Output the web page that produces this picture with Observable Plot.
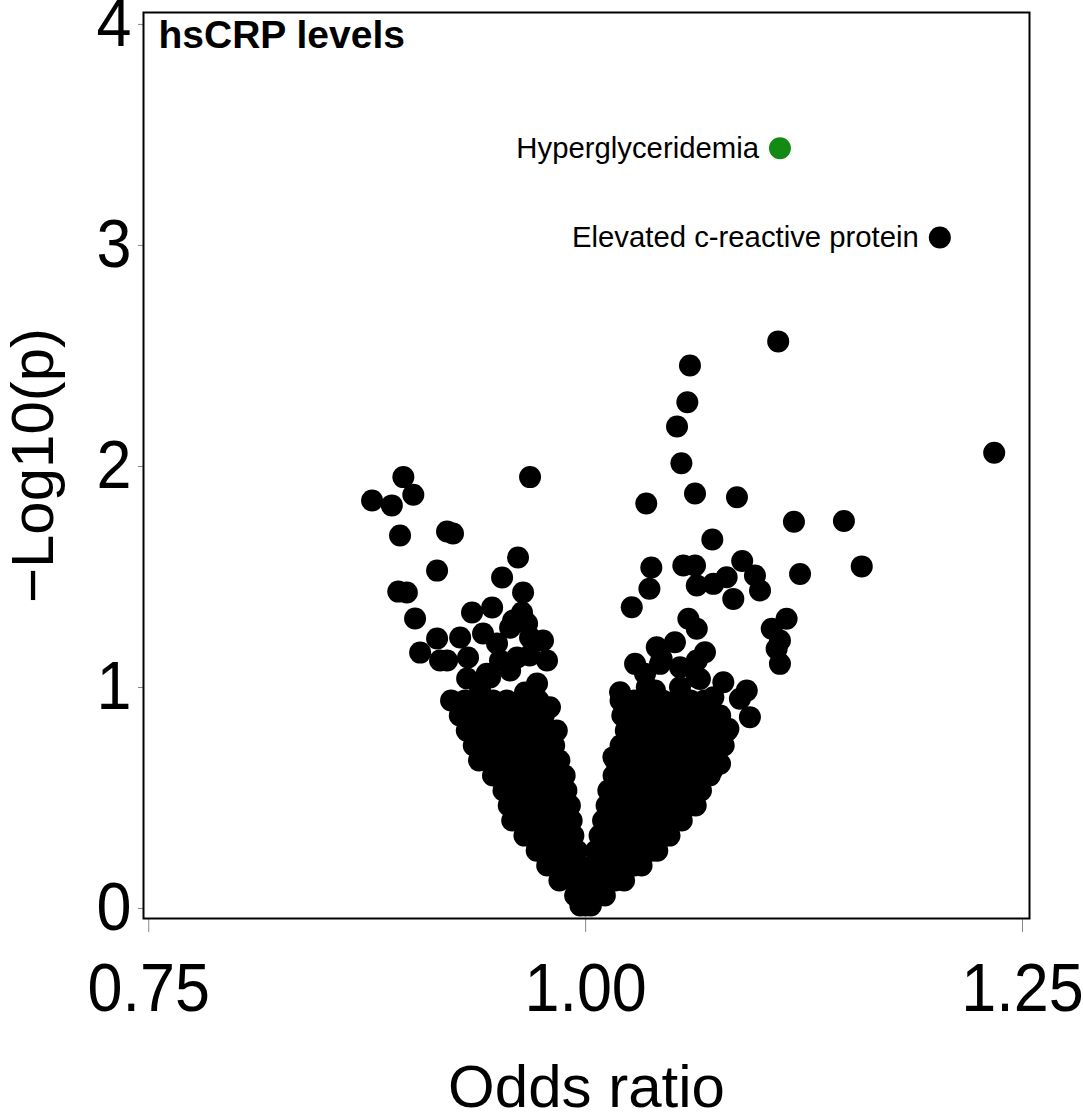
<!DOCTYPE html>
<html>
<head>
<meta charset="utf-8">
<script src="https://cdn.jsdelivr.net/npm/d3@7"></script>
<script src="https://cdn.jsdelivr.net/npm/@observablehq/plot@0.6"></script>
<style>
  body { margin: 0; background: #fff; }
  #chart svg { font-family: "Liberation Sans", Arial, Helvetica, sans-serif; }
</style>
</head>
<body>
<div id="chart"></div>
<script>
// ---- Data ----
const chartTitle = "hsCRP levels";
const xLabel = "Odds ratio";
const yLabel = "\u2212Log10(p)";
const xTicks = [0.75, 1.00, 1.25];
const yTicks = [0, 1, 2, 3, 4];

// Dense V body: one -log10(p) level per row, with the odds ratios found at that level
const rowLogP = [0.014, 0.059, 0.127, 0.195, 0.262, 0.330, 0.398, 0.466, 0.534, 0.602, 0.670, 0.738, 0.805, 0.873, 0.941];
const rowOR = [
  [0.997, 1.000, 1.003],
  [0.994, 1.003, 1.011],
  [0.985, 0.993, 1.001, 1.009, 1.017, 1.022],
  [0.978, 0.988, 0.996, 1.004, 1.012, 1.020, 1.028, 1.032],
  [0.972, 0.980, 0.988, 0.995, 1.006, 1.014, 1.022, 1.030, 1.038, 1.041],
  [0.965, 0.973, 0.981, 0.989, 0.993, 1.008, 1.016, 1.024, 1.032, 1.040, 1.048],
  [0.958, 0.966, 0.974, 0.982, 0.990, 0.992, 1.010, 1.018, 1.026, 1.034, 1.042, 1.050, 1.055],
  [0.956, 0.964, 0.972, 0.980, 0.988, 0.991, 1.012, 1.020, 1.028, 1.036, 1.044, 1.052, 1.060, 1.063],
  [0.953, 0.961, 0.969, 0.977, 0.985, 0.989, 1.013, 1.021, 1.029, 1.037, 1.045, 1.053, 1.061, 1.066],
  [0.947, 0.955, 0.963, 0.971, 0.979, 0.988, 1.016, 1.024, 1.032, 1.040, 1.048, 1.056, 1.064, 1.071],
  [0.939, 0.947, 0.955, 0.963, 0.971, 0.979, 0.985, 1.017, 1.025, 1.033, 1.041, 1.049, 1.057, 1.065, 1.073, 1.075],
  [0.936, 0.944, 0.952, 0.960, 0.968, 0.976, 0.982, 1.020, 1.028, 1.036, 1.044, 1.052, 1.060, 1.068, 1.076, 1.079],
  [0.932, 0.940, 0.948, 0.956, 0.964, 0.972, 0.979, 1.023, 1.031, 1.039, 1.047, 1.055, 1.063, 1.071, 1.081],
  [0.928, 0.936, 0.944, 0.952, 0.960, 0.968, 0.976, 1.021, 1.029, 1.037, 1.045, 1.053, 1.061, 1.069, 1.077],
  [0.923, 0.931, 0.939, 0.947, 0.955, 0.963, 0.973, 1.020, 1.028, 1.036, 1.044, 1.052, 1.060, 1.068]
];

// Scattered traits with OR < 1: [odds ratio, -log10(p)]
const lowerOR = [
  [0.9322, 1.041], [0.9453, 1.045], [0.9568, 1.077], [0.9722, 1.018], [0.9396, 0.986], [0.9653, 0.977],
  [0.9053, 1.158], [0.9150, 1.222], [0.9207, 1.122], [0.9167, 1.122], [0.9282, 1.226], [0.9327, 1.136],
  [0.9413, 1.244], [0.9493, 1.199], [0.9568, 1.271], [0.9608, 1.136], [0.9682, 1.226], [0.9756, 1.213],
  [0.9779, 1.122], [0.9510, 1.122], [0.9680, 1.145],
  [0.9350, 1.339], [0.9465, 1.362], [0.9636, 1.339], [0.9585, 1.303], [0.9665, 1.290], [0.9642, 1.430],
  [0.9522, 1.498], [0.9613, 1.588], [0.9150, 1.529], [0.8928, 1.434], [0.8977, 1.430], [0.9024, 1.312],
  [0.8957, 1.952], [0.8778, 1.846], [0.8891, 1.824], [0.9014, 1.872], [0.9682, 1.952], [0.8938, 1.688],
  [0.9207, 1.706], [0.9241, 1.697], [0.9434, 1.062], [0.9796, 0.911], [0.9835, 0.805]
];

// Scattered traits with OR > 1: [odds ratio, -log10(p)]
const higherOR = [
  [1.1102, 2.566], [1.0597, 2.457], [1.0582, 2.291], [1.0523, 2.181], [1.2338, 2.062], [1.0548, 2.015],
  [1.0347, 1.833], [1.0626, 1.878], [1.0866, 1.861], [1.1192, 1.750], [1.1478, 1.753], [1.0725, 1.670],
  [1.1580, 1.548], [1.1227, 1.514], [1.0376, 1.543], [1.0365, 1.447], [1.0264, 1.363], [1.0559, 1.552],
  [1.0626, 1.552], [1.0636, 1.462], [1.0731, 1.469], [1.0845, 1.401], [1.0896, 1.572], [1.0969, 1.507],
  [1.0998, 1.439], [1.0807, 1.499], [1.1150, 1.311], [1.1065, 1.266], [1.1112, 1.213], [1.1093, 1.175],
  [1.1112, 1.107], [1.0588, 1.311], [1.0636, 1.266], [1.0407, 1.182], [1.0511, 1.205], [1.0683, 1.160],
  [1.0435, 1.130], [1.0283, 1.107], [1.0636, 1.122], [1.0340, 1.062], [1.0654, 1.039], [1.0788, 1.024],
  [1.0922, 0.986], [1.0883, 0.949], [1.0940, 0.866], [1.0817, 0.813], [1.0769, 0.760], [1.0197, 0.979],
  [1.0731, 0.956], [1.0540, 1.001], [1.0397, 0.986], [1.0712, 0.790], [1.0159, 0.685], [1.0769, 0.655],
  [1.0426, 1.107], [1.0540, 1.092], [1.0636, 1.047], [1.0350, 1.001], [1.0723, 0.624]
];

// Labelled traits
const labelNames = ["Hyperglyceridemia", "Elevated c-reactive protein"];
const labelOR = [1.1112, 1.2027];
const labelLogP = [3.44, 3.036];

// ---- Build tables ----
const points = [];
rowLogP.forEach((p, i) => rowOR[i].forEach(or => points.push({or, p})));
lowerOR.forEach(([or, p]) => points.push({or, p}));
higherOR.forEach(([or, p]) => points.push({or, p}));
const labelled = labelNames.map((name, i) => ({name, or: labelOR[i], p: labelLogP[i]}));

const plot = Plot.plot({
  width: 1083,
  height: 1113,
  marginLeft: 143,
  marginRight: 54,
  marginTop: 12,
  marginBottom: 195,
  style: {background: "white", color: "black", fontFamily: '"Liberation Sans", Arial, Helvetica, sans-serif'},
  x: {domain: [0.747, 1.254]},
  y: {domain: [-0.045, 4.054]},
  marks: [
    Plot.axisX(xTicks, {tickSize: 14, tickPadding: 30, stroke: "#888", fill: "black", fontSize: 68, tickFormat: d3.format(".2f"), label: null}),
    Plot.axisY(yTicks, {tickSize: 5, tickPadding: 7, stroke: "#888", fill: "black", fontSize: 68, tickFormat: d3.format("d"), label: null}),
    Plot.dot(points, {x: "or", y: "p", r: 11, fill: "black"}),
    Plot.dot(labelled, {x: "or", y: "p", r: 11, fill: d => d.name === "Hyperglyceridemia" ? "#138a13" : "black"}),
    Plot.text(labelled, {x: "or", y: "p", text: "name", textAnchor: "end", dx: -21, fontSize: 29.3, fill: "black"}),
    Plot.frame({stroke: "black", strokeWidth: 2}),
    Plot.text([chartTitle], {text: d => d, frameAnchor: "top-left", dx: 15, dy: 8, lineAnchor: "top", textAnchor: "start", fontSize: 39, fontWeight: "bold", fill: "black"}),
    Plot.text([xLabel], {text: d => d, frameAnchor: "bottom", dy: 188, lineAnchor: "bottom", textAnchor: "middle", fontSize: 60, fill: "black", ariaLabel: "x-title"}),
    Plot.text([yLabel], {text: d => d, frameAnchor: "left", dx: -110, rotate: -90, textAnchor: "middle", lineAnchor: "middle", fontSize: 60, fill: "black", ariaLabel: "y-title"})
  ]
});

document.getElementById("chart").append(plot);

// Slightly condensed lettering, as in the reference
function condense(selector, f) {
  plot.querySelectorAll(selector).forEach(t => {
    const w = t.getComputedTextLength();
    if (w > 0) {
      t.setAttribute("textLength", (w * f).toFixed(1));
      t.setAttribute("lengthAdjust", "spacingAndGlyphs");
    }
  });
}
condense('[aria-label="x-axis tick label"] text', 0.925);
condense('[aria-label="y-axis tick label"] text', 0.925);
condense('[aria-label="x-title"] text', 0.93);
condense('[aria-label="y-title"] text', 0.93);
</script>
</body>
</html>
